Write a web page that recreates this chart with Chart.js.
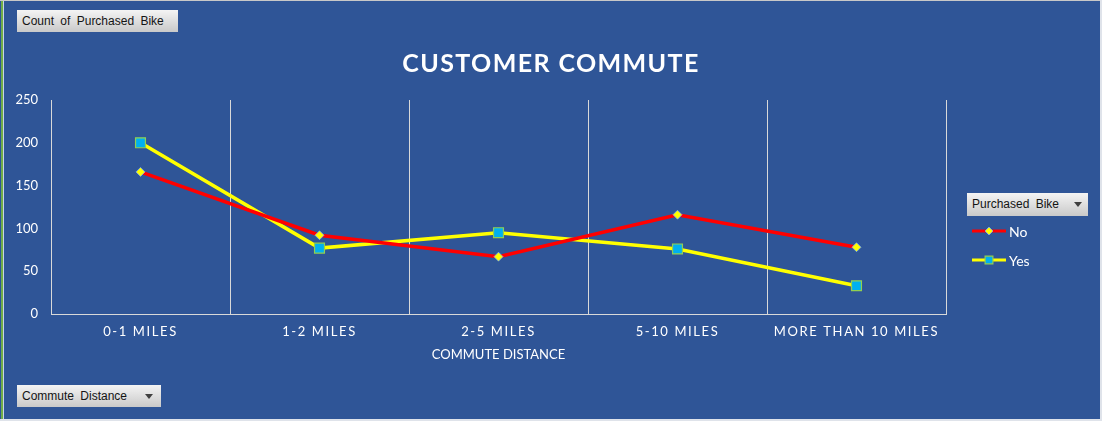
<!DOCTYPE html>
<html>
<head>
<meta charset="utf-8">
<script src="https://cdn.jsdelivr.net/npm/chart.js@4.4.1/dist/chart.umd.min.js"></script>
<style>
  html, body { margin:0; padding:0; background:#ffffff; }
  #frame { position:absolute; left:0; top:0; width:1102px; height:421px; background:#2F5597; overflow:hidden; }
  #edgeL { position:absolute; left:1px; top:0; width:2px; height:421px; background:#70AD47; }
  #edgeL2 { position:absolute; left:3px; top:0; width:1px; height:421px; background:#c9d3e6; }
  #edgeT { position:absolute; left:0; top:0; width:1102px; height:1px; background:#c8c8c8; }
  #edgeB { position:absolute; left:0; top:419px; width:1102px; height:2px; background:#dfe3ea; }
  #edgeR { position:absolute; left:1100px; top:0; width:2px; height:421px; background:#dfe3ea; }
  #wrap { position:absolute; left:0; top:0; width:1102px; height:421px; }
  .btn { position:absolute; box-sizing:border-box; background:linear-gradient(#f4f4f4, #c9c9c9);
         font-family:"Liberation Sans", Arial, sans-serif; font-size:12px; color:#141414;
         word-spacing:3px; line-height:22px; padding-left:5px; white-space:nowrap; }
  .arrow { position:absolute; top:9px; width:0; height:0; border-left:4px solid transparent;
           border-right:4px solid transparent; border-top:5px solid #404040; }
</style>
</head>
<body>
<div id="frame">
  <div id="wrap"><canvas id="c" width="1102" height="421"></canvas></div>
  <div class="btn" style="left:17px; top:10px; width:161px; height:22px;">Count of Purchased Bike</div>
  <div class="btn" style="left:17px; top:385px; width:144px; height:22px;">Commute Distance<span class="arrow" style="left:128px;"></span></div>
  <div class="btn" style="left:967px; top:193px; width:121px; height:23px;">Purchased Bike<span class="arrow" style="left:107px;"></span></div>
  <div id="edgeL"></div><div id="edgeL2"></div><div id="edgeT"></div><div id="edgeB"></div><div id="edgeR"></div>
</div>
<script>
const categories = ["0-1 MILES", "1-2 MILES", "2-5 MILES", "5-10 MILES", "MORE THAN 10 MILES"];
const seriesNames = ["No", "Yes"];
const noValues = [166, 92, 67, 116, 78];
const yesValues = [200, 77, 95, 76, 33];
const chartTitle = "CUSTOMER COMMUTE";
const xAxisTitle = "COMMUTE DISTANCE";

const FONT = "Lato, 'Open Sans', sans-serif";

const titlePlugin = {
  id: 'customTitle',
  afterDraw(chart) {
    const ctx = chart.ctx;
    ctx.save();
    ctx.letterSpacing = '1.4px';
    ctx.fillStyle = '#ffffff';
    ctx.font = "bold 25px " + FONT;
    ctx.textAlign = 'center';
    ctx.textBaseline = 'middle';
    ctx.fillText(chartTitle, 551, 64);
    ctx.restore();
  }
};

const legendPlugin = {
  id: 'customLegend',
  afterDraw(chart) {
    const ctx = chart.ctx;
    const rows = [231, 260];
    const sizes = [4, 5.5];
    chart.data.datasets.forEach((ds, i) => {
      const y = rows[i];
      ctx.save();
      ctx.strokeStyle = ds.borderColor;
      ctx.lineWidth = 3;
      ctx.beginPath();
      ctx.moveTo(972, y);
      ctx.lineTo(1006, y);
      ctx.stroke();
      ctx.fillStyle = ds.pointBackgroundColor;
      ctx.strokeStyle = ds.pointBorderColor;
      ctx.lineWidth = ds.pointBorderWidth;
      Chart.helpers.drawPoint(ctx, {pointStyle: ds.pointStyle, radius: sizes[i], borderWidth: ds.pointBorderWidth}, 989, y);
      ctx.fillStyle = '#ffffff';
      ctx.font = "14px " + FONT;
      ctx.textAlign = 'left';
      ctx.textBaseline = 'middle';
      ctx.fillText(ds.label, 1009, y + 1);
      ctx.restore();
    });
  }
};

const spacingPlugin = {
  id: 'tickSpacing',
  afterLayout(chart) {
    const xs = chart.scales.x;
    if (!xs._patched) {
      const orig = xs.drawLabels.bind(xs);
      xs.drawLabels = function(area) {
        const ctx = chart.ctx;
        ctx.save();
        ctx.letterSpacing = '1.6px';
        orig(area);
        ctx.restore();
      };
      xs._patched = true;
    }
  }
};

new Chart(document.getElementById('c'), {
  type: 'line',
  data: {
    labels: categories,
    datasets: [
      {
        label: seriesNames[0], data: noValues,
        borderColor: '#FF0000', borderWidth: 3.5,
        pointStyle: 'rectRot', pointRadius: 4.5,
        pointBackgroundColor: '#FFFF00', pointBorderColor: 'rgba(120,170,255,0.75)', pointBorderWidth: 1,
        tension: 0
      },
      {
        label: seriesNames[1], data: yesValues,
        borderColor: '#FFFF00', borderWidth: 3.5,
        pointStyle: 'rect', pointRadius: 7,
        pointBackgroundColor: '#00B0F0', pointBorderColor: '#92D050', pointBorderWidth: 1.2,
        tension: 0
      }
    ]
  },
  options: {
    responsive: false,
    animation: false,
    devicePixelRatio: 1,
    layout: { padding: { top: 100, right: 156, left: 0, bottom: 0 } },
    plugins: { legend: { display: false }, title: { display: false }, tooltip: { enabled: false } },
    scales: {
      x: {
        offset: true,
        grid: { display: true, offset: true, color: '#D9D9D9', lineWidth: 1, drawTicks: false },
        border: { display: true, color: '#D9D9D9', width: 1 },
        ticks: { color: '#ffffff', font: { family: FONT, size: 13 }, padding: 10, maxRotation: 0, autoSkip: false },
        title: { display: true, text: xAxisTitle, color: '#ffffff', font: { family: FONT, size: 13 }, padding: { top: 4, bottom: 58 } },
        afterFit(s) { s.height = 107; }
      },
      y: {
        min: 0, max: 250,
        grid: { display: false, drawTicks: false },
        border: { display: false },
        ticks: { stepSize: 50, color: '#ffffff', font: { family: FONT, size: 13 }, padding: 13 },
        afterFit(s) { s.width = 51; }
      }
    }
  },
  plugins: [titlePlugin, legendPlugin, spacingPlugin]
});
</script>
</body>
</html>
